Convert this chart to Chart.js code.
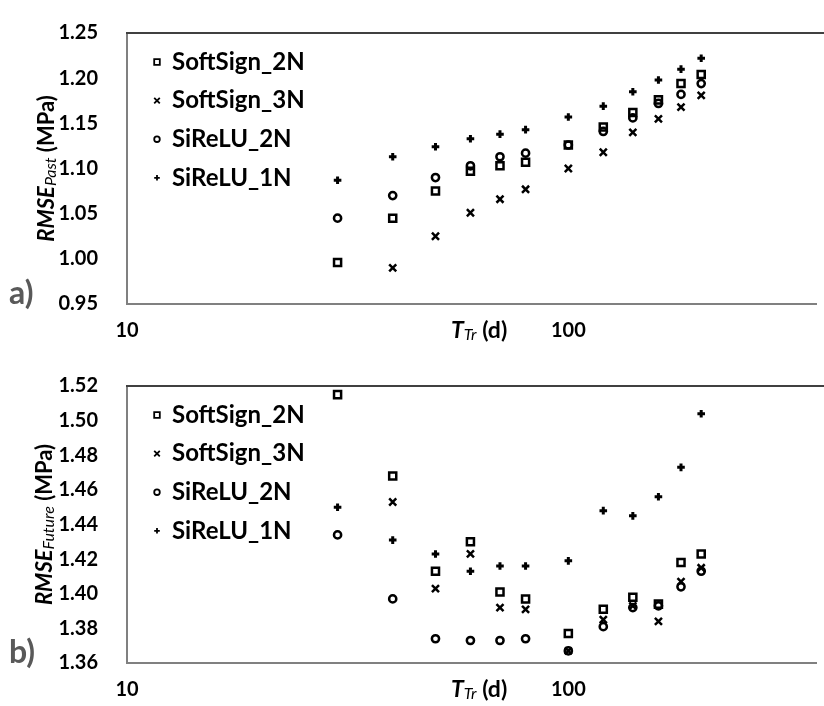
<!DOCTYPE html>
<html>
<head>
<meta charset="utf-8">
<script src="https://cdn.jsdelivr.net/npm/chart.js@4.4.1/dist/chart.umd.min.js"></script>
<style>
  body { margin: 0; background: #fff; }
  canvas { display: block; }
</style>
</head>
<body>
<canvas id="past" width="824" height="353"></canvas>
<canvas id="future" width="824" height="353"></canvas>
<script>
// training window length (days)
const days = [30, 40, 50, 60, 70, 80, 100, 120, 140, 160, 180, 200];
const seriesNames = ['SoftSign_2N', 'SoftSign_3N', 'SiReLU_2N', 'SiReLU_1N'];
const pointStyles = ['rect', 'crossRot', 'circle', 'cross'];

// a) RMSE past
const pastSoftSign2N = [0.996, 1.045, 1.075, 1.097, 1.103, 1.107, 1.126, 1.146, 1.162, 1.176, 1.194, 1.204];
const pastSoftSign3N = [null, 0.990, 1.025, 1.051, 1.066, 1.077, 1.100, 1.118, 1.140, 1.155, 1.168, 1.181];
const pastSiReLU2N   = [1.045, 1.070, 1.090, 1.103, 1.113, 1.117, 1.126, 1.141, 1.156, 1.172, 1.182, 1.194];
const pastSiReLU1N   = [1.087, 1.113, 1.124, 1.133, 1.138, 1.143, 1.157, 1.169, 1.185, 1.198, 1.210, 1.222];

// b) RMSE future
const futSoftSign2N = [1.515, 1.468, 1.413, 1.430, 1.401, 1.397, 1.377, 1.391, 1.398, 1.394, 1.418, 1.423];
const futSoftSign3N = [null, 1.453, 1.403, 1.423, 1.392, 1.391, 1.367, 1.385, 1.393, 1.384, 1.407, 1.415];
const futSiReLU2N   = [1.434, 1.397, 1.374, 1.373, 1.373, 1.374, 1.367, 1.381, 1.392, 1.393, 1.404, 1.413];
const futSiReLU1N   = [1.450, 1.431, 1.423, 1.413, 1.416, 1.416, 1.419, 1.448, 1.445, 1.456, 1.473, 1.504];

const pastTicks = { min: 0.95, max: 1.25, step: 0.05 };
const futTicks = { min: 1.36, max: 1.52, step: 0.02 };

const FONT = 'Lato, "Open Sans", sans-serif';
const pointRadii = [5, 5, 3.6, 3.8];
const pointWidths = [2.5, 2.5, 2.5, 3];

function makeDatasets(seriesList) {
  return seriesList.map((vals, i) => ({
    label: seriesNames[i],
    data: days.map((d, j) => ({ x: d, y: vals[j] })),
    pointStyle: pointStyles[i],
    pointRadius: pointRadii[i],
    pointBorderWidth: pointWidths[i],
    borderColor: '#000',
    backgroundColor: 'rgba(0,0,0,0)',
    showLine: false
  }));
}

function drawMarker(ctx, style, x, y, r) {
  ctx.beginPath();
  if (style === 'rect') {
    ctx.rect(x - r, y - r, 2 * r, 2 * r);
  } else if (style === 'circle') {
    ctx.arc(x, y, r, 0, Math.PI * 2);
  } else if (style === 'cross') {
    ctx.moveTo(x - r, y); ctx.lineTo(x + r, y);
    ctx.moveTo(x, y - r); ctx.lineTo(x, y + r);
  } else {
    ctx.moveTo(x - r, y - r); ctx.lineTo(x + r, y + r);
    ctx.moveTo(x - r, y + r); ctx.lineTo(x + r, y - r);
  }
  ctx.stroke();
}

// draws text pieces one after another: [text, font, dy]
function drawRuns(ctx, runs, x, y) {
  let cx = x;
  runs.forEach(([t, f, dy]) => {
    ctx.font = f;
    ctx.fillText(t, cx, y + dy);
    cx += ctx.measureText(t).width;
  });
  return cx;
}
function runsWidth(ctx, runs) {
  let w = 0;
  runs.forEach(([t, f]) => { ctx.font = f; w += ctx.measureText(t).width; });
  return w;
}

const decor = {
  id: 'decor',
  afterDraw(chart, args, o) {
    const { ctx, chartArea: a } = chart;
    ctx.save();
    // top frame line
    ctx.strokeStyle = '#404040';
    ctx.lineWidth = 2;
    ctx.beginPath();
    ctx.moveTo(a.left - 1, a.top);
    ctx.lineTo(824, a.top);
    ctx.stroke();

    // legend
    ctx.fillStyle = '#000';
    ctx.strokeStyle = '#000';
    ctx.textBaseline = 'middle';
    ctx.lineWidth = 1.8;
    seriesNames.forEach((name, i) => {
      const y = a.top + 28 + i * 38.6;
      drawMarker(ctx, pointStyles[i], a.left + 30, y + 1, 2.8);
      ctx.font = 'bold 24px ' + FONT;
      ctx.fillText(name, a.left + 45, y + 1);
    });

    // y title, rotated
    const yRuns = [
      ['RMSE', 'italic bold 22px ' + FONT, 0],
      [o.ySub, 'italic 16px ' + FONT, 4],
      [' (MPa)', 'bold 22px ' + FONT, 0]
    ];
    ctx.save();
    ctx.translate(o.yTitleX, (a.top + a.bottom) / 2 + o.yTitleDy);
    ctx.rotate(-Math.PI / 2);
    ctx.textBaseline = 'middle';
    drawRuns(ctx, yRuns, -runsWidth(ctx, yRuns) / 2, 0);
    ctx.restore();

    // x title
    const xRuns = [
      ['T', 'italic bold 23px ' + FONT, 0],
      ['Tr', 'italic 16px ' + FONT, 4],
      [' (d)', 'bold 23px ' + FONT, 0]
    ];
    ctx.textBaseline = 'middle';
    drawRuns(ctx, xRuns, 451, a.bottom + o.xTitleDy);

    // panel label
    ctx.fillStyle = '#595959';
    ctx.font = 'bold 32px ' + FONT;
    ctx.fillText(o.panel, 9, a.bottom - 10);
    ctx.restore();
  }
};

function makeChart(id, seriesList, range, opts) {
  return new Chart(document.getElementById(id), {
    type: 'scatter',
    data: { datasets: makeDatasets(seriesList) },
    options: {
      responsive: false,
      animation: false,
      layout: { padding: { top: opts.top, right: 0, left: 0, bottom: 0 } },
      plugins: {
        legend: { display: false },
        tooltip: { enabled: false },
        decor: opts
      },
      scales: {
        x: {
          type: 'logarithmic',
          min: 10,
          max: 365,
          grid: { display: false },
          border: { display: true, color: '#808080', width: 2 },
          ticks: {
            color: '#000',
            font: { family: FONT, size: 20, weight: 'bold' },
            padding: 7,
            maxRotation: 0,
            autoSkip: false,
            callback: v => (v === 10 || v === 100) ? String(v) : ''
          },
          afterFit(s) { s.height = opts.xHeight; }
        },
        y: {
          min: range.min,
          max: range.max,
          grid: { display: false },
          border: { display: true, color: '#808080', width: 2 },
          ticks: {
            stepSize: range.step,
            color: '#000',
            font: { family: FONT, size: 20, weight: 'bold' },
            padding: 21,
            callback: v => v.toFixed(2)
          },
          afterFit(s) { s.width = 127; }
        }
      }
    },
    plugins: [decor]
  });
}

makeChart('past', [pastSoftSign2N, pastSoftSign3N, pastSiReLU2N, pastSiReLU1N], pastTicks,
  { top: 15, xHeight: 49, ySub: 'Past', yTitleX: 47, yTitleDy: 0, xTitleDy: 27, panel: 'a)' });
makeChart('future', [futSoftSign2N, futSoftSign3N, futSiReLU2N, futSiReLU1N], futTicks,
  { top: 21, xHeight: 43, ySub: 'Future', yTitleX: 45, yTitleDy: 0, xTitleDy: 27, panel: 'b)' });
</script>
</body>
</html>
